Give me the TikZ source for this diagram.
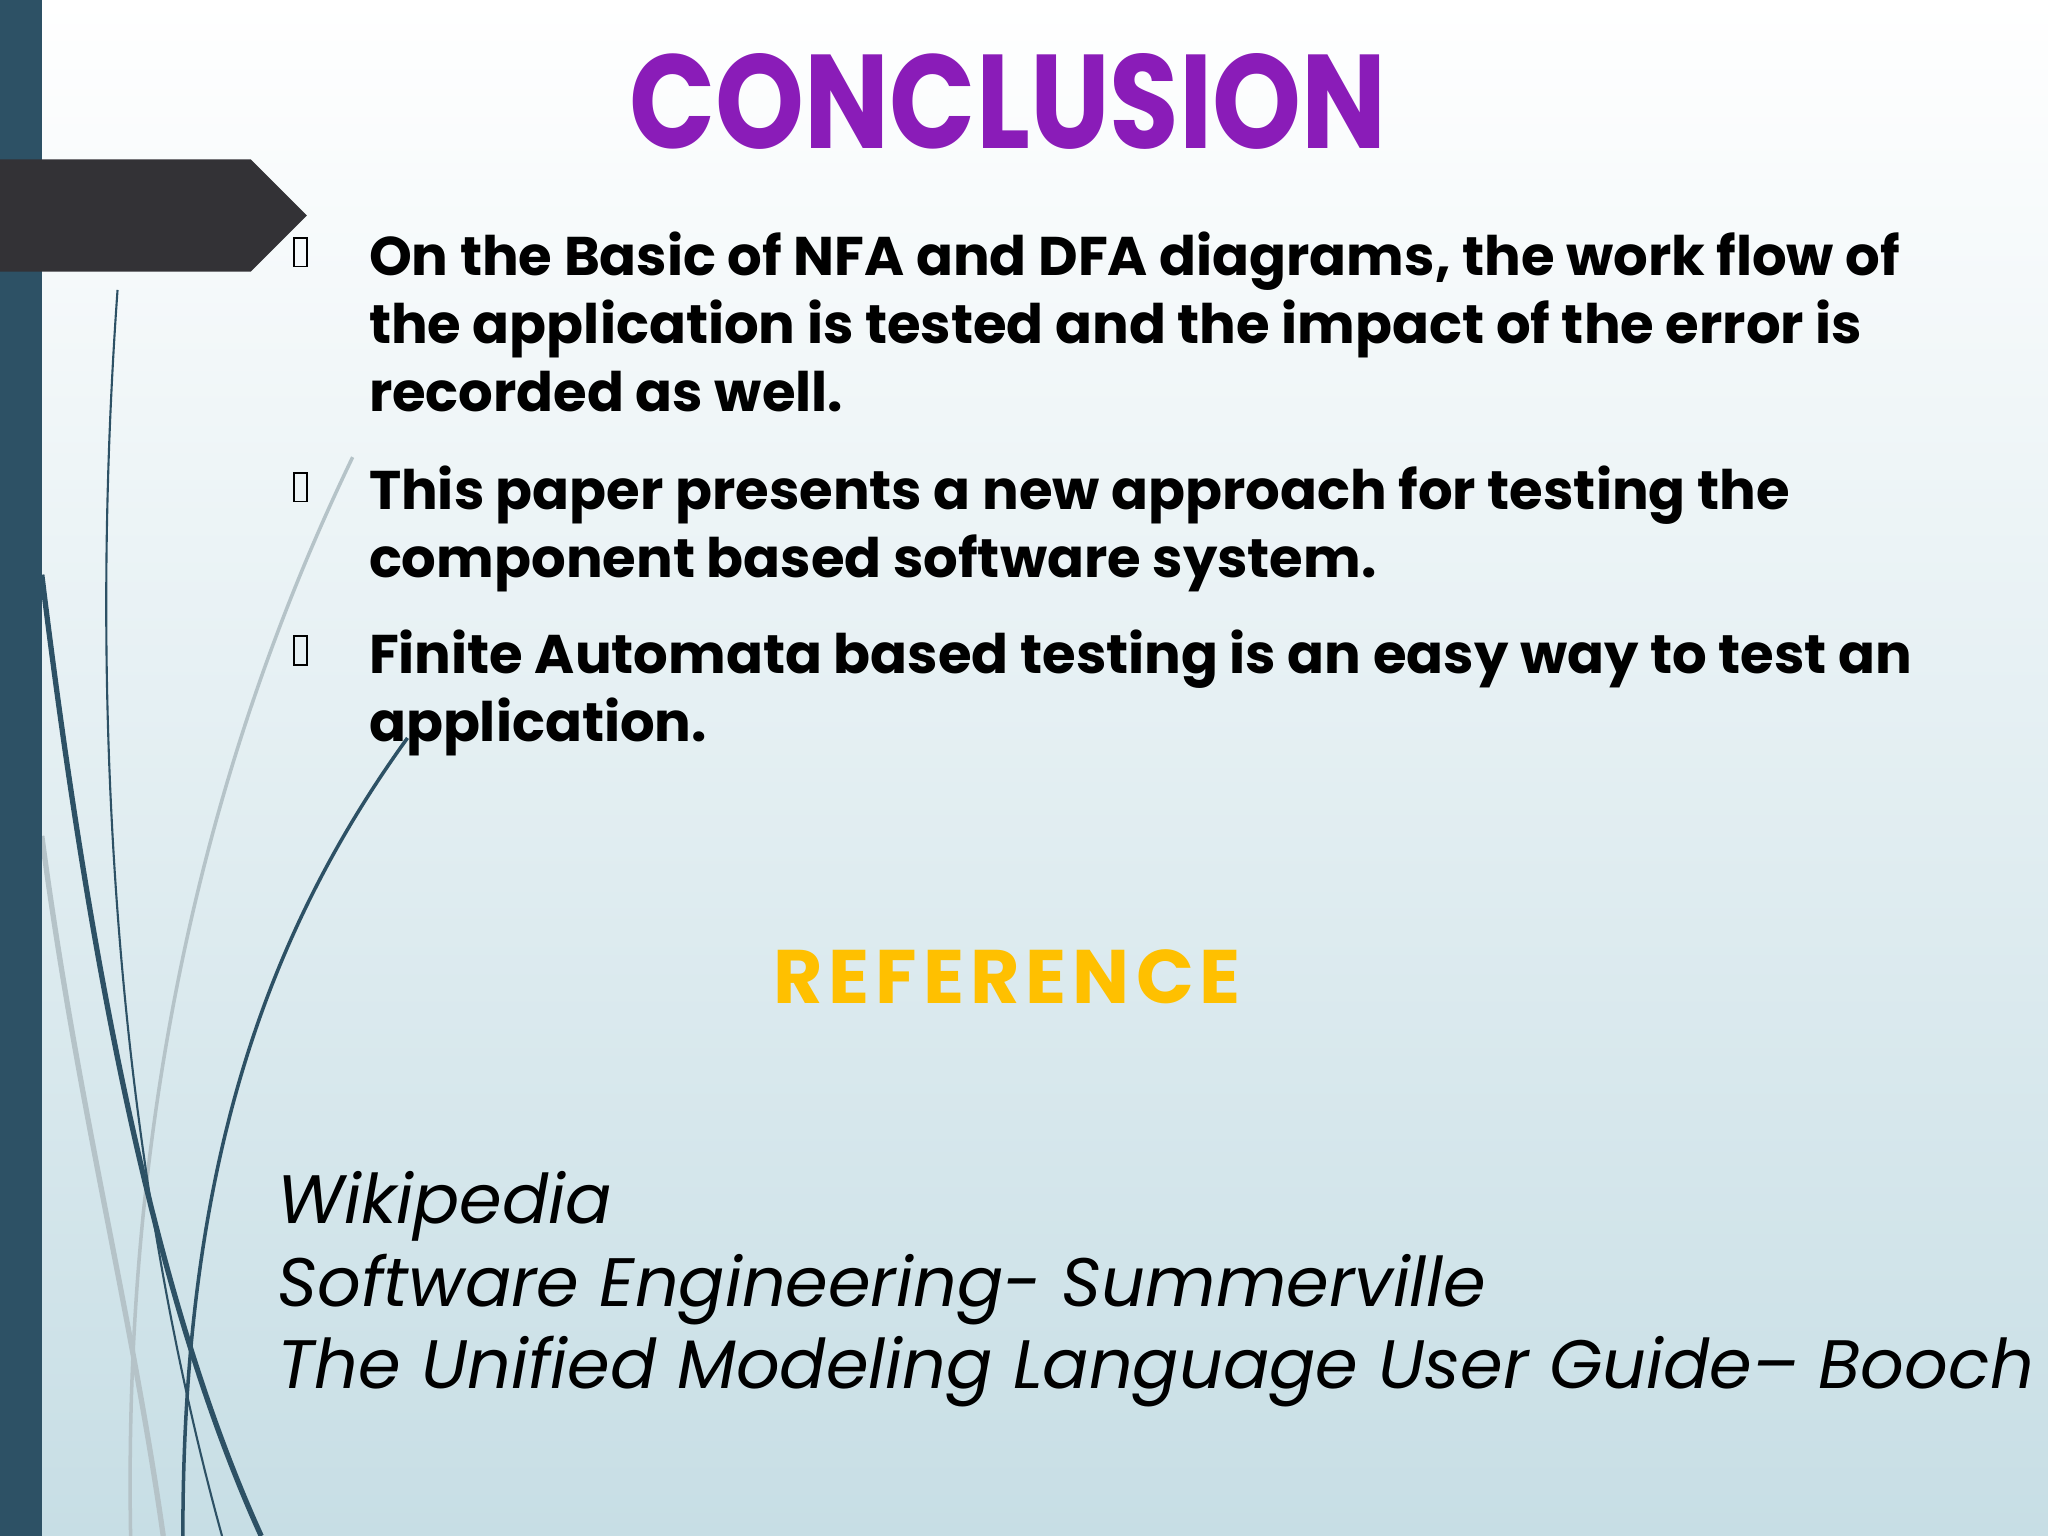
\documentclass[tikz,border=0pt]{standalone}
\usepackage{fontspec}
\setmainfont{Poppins}
\usetikzlibrary{shapes.geometric}
\definecolor{bar}{HTML}{2D5165}
\definecolor{tab}{HTML}{333236}
\definecolor{ttl}{HTML}{8A1CB8}
\definecolor{refc}{HTML}{FFC000}
\definecolor{bgb}{HTML}{C7DEE5}
\definecolor{ln}{HTML}{2D5165}
\definecolor{lg}{HTML}{B5C3C8}
\tikzset{bul/.style={anchor=base west,inner sep=0pt,font=\fontsize{15.5}{18}\selectfont\bfseries},
 refl/.style={anchor=base west,inner sep=0pt,font=\fontsize{19.5}{22}\selectfont\itshape},
 tofu/.style={draw=black,line width=0.5pt}}
\begin{document}
\begin{tikzpicture}[x=0.01306cm,y=-0.01306cm]
\useasboundingbox (0,0) rectangle (1568,1176);
\shade[top color=white,bottom color=bgb] (0,0) rectangle (1568,1176);
% curves
\draw[lg,line width=1pt] (270,350) .. controls (140,620) and (95,900) .. (100,1176);
\draw[lg,line width=1.5pt] (32,640) .. controls (60,850) and (100,1000) .. (125,1176);
\draw[ln,line width=0.6pt] (90,222) .. controls (70,500) and (80,850) .. (170,1176);
\draw[ln,line width=1.5pt] (32,440) .. controls (70,750) and (120,1000) .. (200,1176);
\draw[ln,line width=1pt] (312,565) .. controls (200,720) and (140,900) .. (140,1176);
\fill[bar] (0,0) rectangle (32,1176);
\fill[tab] (0,122) -- (192,122) -- (235,165) -- (192,208) -- (0,208) -- cycle;
\node[inner sep=0pt,text=ttl] (title) at (772,78) {\resizebox{7.57cm}{0.95cm}{\bfseries CONCLUSION}};
% bullets
\foreach \y/\n in {182/b1,362/b2,487/b3}
  \draw[tofu] (225,\y) rectangle (235,\y+22);
\node[bul] (l1) at (282,211) {On the Basic of NFA and DFA diagrams, the work flow of};
\node[bul] (l2) at (282,263) {the application is tested and the impact of the error is};
\node[bul] (l3) at (282,315) {recorded as well.};
\node[bul] (l4) at (282,390) {This paper presents a new approach for testing the};
\node[bul] (l5) at (282,442) {component based software system.};
\node[bul] (l6) at (282,516) {Finite Automata based testing is an easy way to test an};
\node[bul] (l7) at (282,568) {application.};
\node[inner sep=0pt,text=refc] (ref) at (771,748) {\resizebox{4.68cm}{!}{\bfseries\addfontfeatures{LetterSpace=8}REFERENCE}};
\node[refl] (r1) at (212,937) {Wikipedia};
\node[refl] (r2) at (212,1000) {Software Engineering- Summerville};
\node[refl] (r3) at (212,1063) {The Unified Modeling Language User Guide-- Booch};
\end{tikzpicture}
\end{document}
